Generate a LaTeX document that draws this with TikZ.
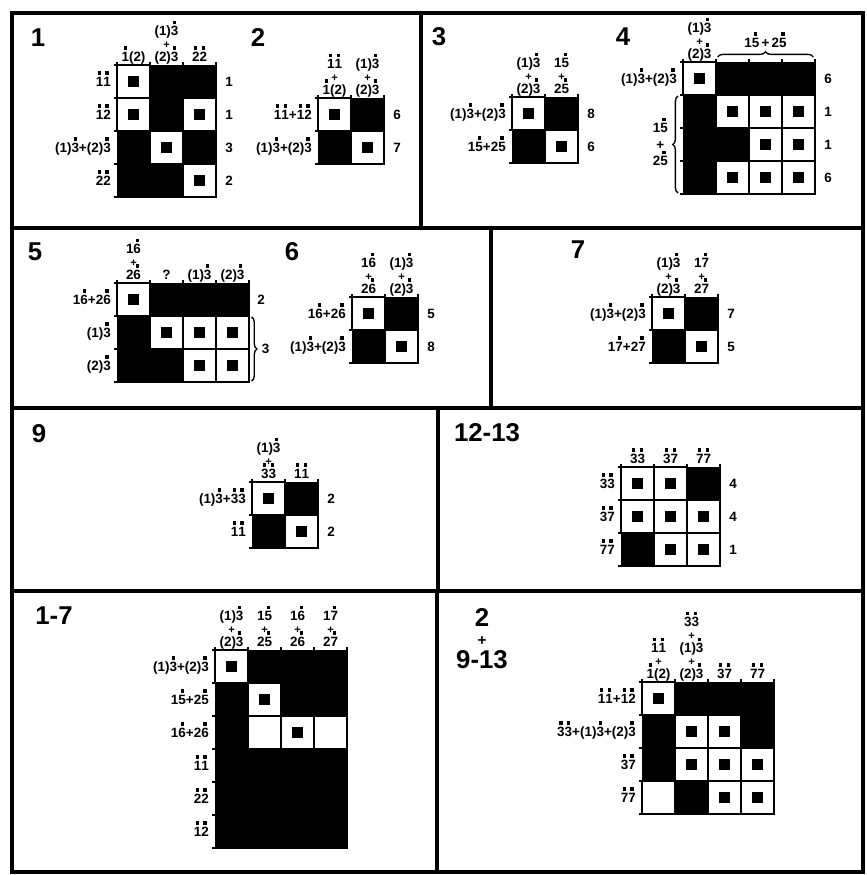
\documentclass[tikz,border=0pt]{standalone}
\usepackage{fontspec}
\setmainfont{Liberation Sans}
\usepackage{graphicx}
\usetikzlibrary{decorations.pathreplacing}

\newcommand{\dotd}[1]{\ooalign{#1\cr\hidewidth\raisebox{.84em}{\rule{.25em}{.25em}}\hidewidth\cr}}
\newcommand{\stk}[2]{\begin{tabular}[b]{@{}c@{}}#1\\[-1pt]{\fontsize{9.5}{10}\selectfont+}\\[-1pt]#2\end{tabular}}

\begin{document}
\begin{tikzpicture}[
  x=0.3mm,y=-0.3mm,
  frame/.style={line width=1.1mm},
  cellunits/.style={x=9.9mm,y=-9.9mm},
  blackgrid/.style={draw,fill=black,line width=0.4mm,inner sep=0pt,anchor=north west},
  wcell/.style={draw,fill=white,line width=0.4mm,inner sep=0pt,minimum size=9.9mm,
    label={[fill=black,inner sep=0pt,minimum size=3.1mm]center:}},
  ecell/.style={draw,fill=white,line width=0.4mm,inner sep=0pt,minimum size=9.9mm},
  edgetick/.style={line width=0.4mm},
  colhead/.style={anchor=base,inner sep=0pt,font=\fontsize{11.5}{12}\selectfont\bfseries},
  rowhead/.style={anchor=base east,inner sep=0pt,font=\fontsize{11.5}{12}\selectfont\bfseries},
  count/.style={anchor=base west,inner sep=0pt,font=\fontsize{11.5}{12}\selectfont\bfseries},
  paneltitle/.style={inner sep=0pt,align=center,font=\fontsize{22}{24}\selectfont\bfseries},
  brc/.style={decorate,decoration={brace,amplitude=1.6mm},line width=0.4mm}
]
\useasboundingbox (0,0) rectangle (866,875);

% frames
\draw[frame] (12,13) rectangle (863,872);
\draw[frame] (12,228) -- (863,228);
\draw[frame] (12,408) -- (863,408);
\draw[frame] (12,591) -- (863,591);
\draw[frame] (421,13) -- (421,228);
\draw[frame] (491,228) -- (491,408);
\draw[frame] (438,408) -- (438,591);
\draw[frame] (437,591) -- (437,872);

% 1
\node[paneltitle] (t1) at (38,38) {1};
\begin{scope}[shift={(117,65)},cellunits]
  \node[blackgrid,minimum width=29.7mm,minimum height=39.6mm] (g1) at (0,0) {};
  \foreach \i in {0,...,3} \draw[edgetick] (\i,0) -- (\i,-.1);
  \foreach \j in {0,...,4} \draw[edgetick] (0,\j) -- (-.1,\j);
  \foreach \c/\r in {1/1,1/2,3/2,2/3,3/4} \node[wcell] (g1-\c-\r) at (\c-.5,\r-.5) {};
  \node[colhead] (g1c1) at (.5,-.12) {\dotd1(2)};
  \node[colhead] (g1c2) at (1.5,-.12) {\stk{(1)\dotd3}{(2)\dotd3}};
  \node[colhead] (g1c3) at (2.5,-.12) {\dotd2\dotd2};
  \node[rowhead] (g1r1) at (-.18,.64) {\dotd1\dotd1};
  \node[rowhead] (g1r2) at (-.18,1.64) {\dotd1\dotd2};
  \node[rowhead] (g1r3) at (-.18,2.64) {(1)\dotd3+(2)\dotd3};
  \node[rowhead] (g1r4) at (-.18,3.64) {\dotd2\dotd2};
  \node[count] (g1n1) at (3.28,.64) {1};
  \node[count] (g1n2) at (3.28,1.64) {1};
  \node[count] (g1n3) at (3.28,2.64) {3};
  \node[count] (g1n4) at (3.28,3.64) {2};
\end{scope}

% 2
\node[paneltitle] (t2) at (258,38) {2};
\begin{scope}[shift={(318,98)},cellunits]
  \node[blackgrid,minimum width=19.8mm,minimum height=19.8mm] (g2) at (0,0) {};
  \foreach \i in {0,...,2} \draw[edgetick] (\i,0) -- (\i,-.1);
  \foreach \j in {0,...,2} \draw[edgetick] (0,\j) -- (-.1,\j);
  \foreach \c/\r in {1/1,2/2} \node[wcell] (g2-\c-\r) at (\c-.5,\r-.5) {};
  \node[colhead] (g2c1) at (.5,-.12) {\stk{\dotd1\dotd1}{\dotd1(2)}};
  \node[colhead] (g2c2) at (1.5,-.12) {\stk{(1)\dotd3}{(2)\dotd3}};
  \node[rowhead] (g2r1) at (-.18,.64) {\dotd1\dotd1+\dotd1\dotd2};
  \node[rowhead] (g2r2) at (-.18,1.64) {(1)\dotd3+(2)\dotd3};
  \node[count] (g2n1) at (2.28,.64) {6};
  \node[count] (g2n2) at (2.28,1.64) {7};
\end{scope}

% 3
\node[paneltitle] (t3) at (439,37) {3};
\begin{scope}[shift={(512,97)},cellunits]
  \node[blackgrid,minimum width=19.8mm,minimum height=19.8mm] (g3) at (0,0) {};
  \foreach \i in {0,...,2} \draw[edgetick] (\i,0) -- (\i,-.1);
  \foreach \j in {0,...,2} \draw[edgetick] (0,\j) -- (-.1,\j);
  \foreach \c/\r in {1/1,2/2} \node[wcell] (g3-\c-\r) at (\c-.5,\r-.5) {};
  \node[colhead] (g3c1) at (.5,-.12) {\stk{(1)\dotd3}{(2)\dotd3}};
  \node[colhead] (g3c2) at (1.5,-.12) {\stk{1\dotd5}{2\dotd5}};
  \node[rowhead] (g3r1) at (-.18,.64) {(1)\dotd3+(2)\dotd3};
  \node[rowhead] (g3r2) at (-.18,1.64) {1\dotd5+2\dotd5};
  \node[count] (g3n1) at (2.28,.64) {8};
  \node[count] (g3n2) at (2.28,1.64) {6};
\end{scope}

% 4
\node[paneltitle] (t4) at (623,37) {4};
\begin{scope}[shift={(683,62)},cellunits]
  \node[blackgrid,minimum width=39.6mm,minimum height=39.6mm] (g4) at (0,0) {};
  \foreach \i in {0,...,4} \draw[edgetick] (\i,0) -- (\i,-.1);
  \foreach \j in {0,...,4} \draw[edgetick] (0,\j) -- (-.1,\j);
  \foreach \c/\r in {1/1,2/2,3/2,4/2,3/3,4/3,2/4,3/4,4/4} \node[wcell] (g4-\c-\r) at (\c-.5,\r-.5) {};
  \node[colhead] (g4c1) at (.5,-.12) {\stk{(1)\dotd3}{(2)\dotd3}};
  \draw[brc] (1.05,-.15) -- (3.95,-.15);
  \node[colhead] (g4c2) at (2.5,-.45) {1\dotd5\,+\,2\dotd5};
  \node[rowhead] (g4r1) at (-.18,.64) {(1)\dotd3+(2)\dotd3};
  \draw[brc] (-.15,3.97) -- (-.15,1.03);
  \node[anchor=east,inner sep=0pt,align=center,font=\fontsize{11.5}{12}\selectfont\bfseries] (g4r2) at (-.45,2.5) {1\dotd5\\[2pt]+\\[2pt]2\dotd5};
  \node[count] (g4n1) at (4.28,.64) {6};
  \node[count] (g4n2) at (4.28,1.64) {1};
  \node[count] (g4n3) at (4.28,2.64) {1};
  \node[count] (g4n4) at (4.28,3.64) {6};
\end{scope}

% 5
\node[paneltitle] (t5) at (35,252) {5};
\begin{scope}[shift={(117,283)},cellunits]
  \node[blackgrid,minimum width=39.6mm,minimum height=29.7mm] (g5) at (0,0) {};
  \foreach \i in {0,...,4} \draw[edgetick] (\i,0) -- (\i,-.1);
  \foreach \j in {0,...,3} \draw[edgetick] (0,\j) -- (-.1,\j);
  \foreach \c/\r in {1/1,2/2,3/2,4/2,3/3,4/3} \node[wcell] (g5-\c-\r) at (\c-.5,\r-.5) {};
  \node[colhead] (g5c1) at (.5,-.12) {\stk{1\dotd6}{2\dotd6}};
  \node[colhead] (g5c2) at (1.5,-.12) {?};
  \node[colhead] (g5c3) at (2.5,-.12) {(1)\dotd3};
  \node[colhead] (g5c4) at (3.5,-.12) {(2)\dotd3};
  \node[rowhead] (g5r1) at (-.18,.64) {1\dotd6+2\dotd6};
  \node[rowhead] (g5r2) at (-.18,1.64) {(1)\dotd3};
  \node[rowhead] (g5r3) at (-.18,2.64) {(2)\dotd3};
  \node[count] (g5n1) at (4.25,.64) {2};
  \draw[brc] (4.08,1.03) -- (4.08,2.97);
  \node[count] (g5n2) at (4.38,2.14) {3};
\end{scope}

% 6
\node[paneltitle] (t6) at (292,252) {6};
\begin{scope}[shift={(352,297)},cellunits]
  \node[blackgrid,minimum width=19.8mm,minimum height=19.8mm] (g6) at (0,0) {};
  \foreach \i in {0,...,2} \draw[edgetick] (\i,0) -- (\i,-.1);
  \foreach \j in {0,...,2} \draw[edgetick] (0,\j) -- (-.1,\j);
  \foreach \c/\r in {1/1,2/2} \node[wcell] (g6-\c-\r) at (\c-.5,\r-.5) {};
  \node[colhead] (g6c1) at (.5,-.12) {\stk{1\dotd6}{2\dotd6}};
  \node[colhead] (g6c2) at (1.5,-.12) {\stk{(1)\dotd3}{(2)\dotd3}};
  \node[rowhead] (g6r1) at (-.18,.64) {1\dotd6+2\dotd6};
  \node[rowhead] (g6r2) at (-.18,1.64) {(1)\dotd3+(2)\dotd3};
  \node[count] (g6n1) at (2.28,.64) {5};
  \node[count] (g6n2) at (2.28,1.64) {8};
\end{scope}

% 7
\node[paneltitle] (t7) at (578,250) {7};
\begin{scope}[shift={(652,297)},cellunits]
  \node[blackgrid,minimum width=19.8mm,minimum height=19.8mm] (g7) at (0,0) {};
  \foreach \i in {0,...,2} \draw[edgetick] (\i,0) -- (\i,-.1);
  \foreach \j in {0,...,2} \draw[edgetick] (0,\j) -- (-.1,\j);
  \foreach \c/\r in {1/1,2/2} \node[wcell] (g7-\c-\r) at (\c-.5,\r-.5) {};
  \node[colhead] (g7c1) at (.5,-.12) {\stk{(1)\dotd3}{(2)\dotd3}};
  \node[colhead] (g7c2) at (1.5,-.12) {\stk{1\dotd7}{2\dotd7}};
  \node[rowhead] (g7r1) at (-.18,.64) {(1)\dotd3+(2)\dotd3};
  \node[rowhead] (g7r2) at (-.18,1.64) {1\dotd7+2\dotd7};
  \node[count] (g7n1) at (2.28,.64) {7};
  \node[count] (g7n2) at (2.28,1.64) {5};
\end{scope}

% 9
\node[paneltitle] (t9) at (39,434) {9};
\begin{scope}[shift={(252,482)},cellunits]
  \node[blackgrid,minimum width=19.8mm,minimum height=19.8mm] (g9) at (0,0) {};
  \foreach \i in {0,...,2} \draw[edgetick] (\i,0) -- (\i,-.1);
  \foreach \j in {0,...,2} \draw[edgetick] (0,\j) -- (-.1,\j);
  \foreach \c/\r in {1/1,2/2} \node[wcell] (g9-\c-\r) at (\c-.5,\r-.5) {};
  \node[colhead] (g9c1) at (.5,-.12) {\stk{(1)\dotd3}{\dotd3\dotd3}};
  \node[colhead] (g9c2) at (1.5,-.12) {\dotd1\dotd1};
  \node[rowhead] (g9r1) at (-.18,.64) {(1)\dotd3+\dotd3\dotd3};
  \node[rowhead] (g9r2) at (-.18,1.64) {\dotd1\dotd1};
  \node[count] (g9n1) at (2.28,.64) {2};
  \node[count] (g9n2) at (2.28,1.64) {2};
\end{scope}

% 12-13
\node[paneltitle] (t12) at (487,433) {12-13};
\begin{scope}[shift={(621,467)},cellunits]
  \node[blackgrid,minimum width=29.7mm,minimum height=29.7mm] (g12) at (0,0) {};
  \foreach \i in {0,...,3} \draw[edgetick] (\i,0) -- (\i,-.1);
  \foreach \j in {0,...,3} \draw[edgetick] (0,\j) -- (-.1,\j);
  \foreach \c/\r in {1/1,2/1,1/2,2/2,3/2,2/3,3/3} \node[wcell] (g12-\c-\r) at (\c-.5,\r-.5) {};
  \node[colhead] (g12c1) at (.5,-.12) {\dotd3\dotd3};
  \node[colhead] (g12c2) at (1.5,-.12) {\dotd3\dotd7};
  \node[colhead] (g12c3) at (2.5,-.12) {\dotd7\dotd7};
  \node[rowhead] (g12r1) at (-.18,.64) {\dotd3\dotd3};
  \node[rowhead] (g12r2) at (-.18,1.64) {\dotd3\dotd7};
  \node[rowhead] (g12r3) at (-.18,2.64) {\dotd7\dotd7};
  \node[count] (g12n1) at (3.28,.64) {4};
  \node[count] (g12n2) at (3.28,1.64) {4};
  \node[count] (g12n3) at (3.28,2.64) {1};
\end{scope}

% 1-7
\node[paneltitle] (t17) at (54,616) {1-7};
\begin{scope}[shift={(215,650)},cellunits]
  \node[blackgrid,minimum width=39.6mm,minimum height=59.4mm] (g17) at (0,0) {};
  \foreach \i in {0,...,4} \draw[edgetick] (\i,0) -- (\i,-.1);
  \foreach \j in {0,...,6} \draw[edgetick] (0,\j) -- (-.1,\j);
  \foreach \c/\r in {1/1,2/2,3/3} \node[wcell] (g17-\c-\r) at (\c-.5,\r-.5) {};
  \foreach \c/\r in {2/3,4/3} \node[ecell] (g17-\c-\r) at (\c-.5,\r-.5) {};
  \node[colhead] (g17c1) at (.5,-.12) {\stk{(1)\dotd3}{(2)\dotd3}};
  \node[colhead] (g17c2) at (1.5,-.12) {\stk{1\dotd5}{2\dotd5}};
  \node[colhead] (g17c3) at (2.5,-.12) {\stk{1\dotd6}{2\dotd6}};
  \node[colhead] (g17c4) at (3.5,-.12) {\stk{1\dotd7}{2\dotd7}};
  \node[rowhead] (g17r1) at (-.18,.64) {(1)\dotd3+(2)\dotd3};
  \node[rowhead] (g17r2) at (-.18,1.64) {1\dotd5+2\dotd5};
  \node[rowhead] (g17r3) at (-.18,2.64) {1\dotd6+2\dotd6};
  \node[rowhead] (g17r4) at (-.18,3.64) {\dotd1\dotd1};
  \node[rowhead] (g17r5) at (-.18,4.64) {\dotd2\dotd2};
  \node[rowhead] (g17r6) at (-.18,5.64) {\dotd1\dotd2};
\end{scope}

% 2 + 9-13
\node[paneltitle] (t29) at (482,639) {2\\[-8pt]{\fontsize{13}{14}\selectfont+}\\[-4pt]9-13};
\begin{scope}[shift={(642,682)},cellunits]
  \node[blackgrid,minimum width=39.6mm,minimum height=39.6mm] (g29) at (0,0) {};
  \foreach \i in {0,...,4} \draw[edgetick] (\i,0) -- (\i,-.1);
  \foreach \j in {0,...,4} \draw[edgetick] (0,\j) -- (-.1,\j);
  \foreach \c/\r in {1/1,2/2,3/2,2/3,3/3,4/3,3/4,4/4} \node[wcell] (g29-\c-\r) at (\c-.5,\r-.5) {};
  \node[ecell] (g29-1-4) at (.5,3.5) {};
  \node[colhead] (g29c1) at (.5,-.12) {\stk{\dotd1\dotd1}{\dotd1(2)}};
  \node[colhead] (g29c2) at (1.5,-.12) {\stk{\dotd3\dotd3}{\stk{(1)\dotd3}{(2)\dotd3}}};
  \node[colhead] (g29c3) at (2.5,-.12) {\dotd3\dotd7};
  \node[colhead] (g29c4) at (3.5,-.12) {\dotd7\dotd7};
  \node[rowhead] (g29r1) at (-.18,.64) {\dotd1\dotd1+\dotd1\dotd2};
  \node[rowhead] (g29r2) at (-.18,1.64) {\dotd3\dotd3+(1)\dotd3+(2)\dotd3};
  \node[rowhead] (g29r3) at (-.18,2.64) {\dotd3\dotd7};
  \node[rowhead] (g29r4) at (-.18,3.64) {\dotd7\dotd7};
\end{scope}
\end{tikzpicture}
\end{document}
